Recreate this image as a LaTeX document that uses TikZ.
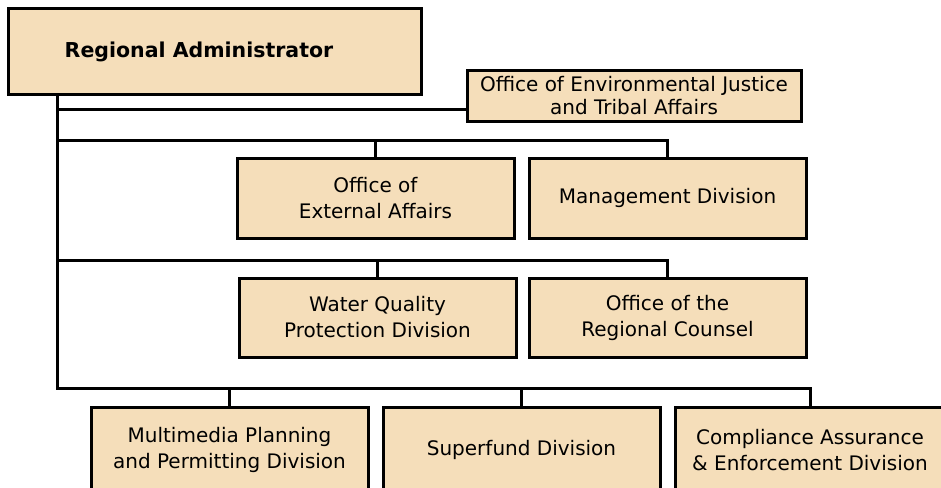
\documentclass[tikz,border=0pt]{standalone}
\usepackage{fontspec}
\setmainfont{DejaVu Sans}
\definecolor{boxfill}{RGB}{245,222,186}
\tikzset{
  orgbox/.style={draw=black, line width=3pt, fill=boxfill, align=center,
    inner sep=0pt, font=\fontsize{20}{26}\selectfont},
  conn/.style={draw=black, line width=3pt}
}
\begin{document}
\begin{tikzpicture}[x=1pt, y=-1pt]
  \useasboundingbox[fill=white] (0,0) rectangle (941,487);
  % trunk and bus lines
  \coordinate (top) at (57,93);
  \coordinate (bot) at (57,388);
  \coordinate (b0) at (57,109);
  \coordinate (b1) at (57,140);
  \coordinate (b2) at (57,260);
  % boxes
  \node[orgbox, minimum width=413pt, minimum height=85pt,
        font=\bfseries\fontsize{20.5}{24}\selectfont]
        (ra) at (215,51.5) {Regional Administrator\hspace*{32pt}};
  \node[orgbox, minimum width=334pt, minimum height=51pt,
        font=\fontsize{20}{23}\selectfont]
        (oejta) at (634,95.5) {Office of Environmental Justice\\and Tribal Affairs};
  \node[orgbox, minimum width=277pt, minimum height=80pt] (oea) at (375.5,198)
        {Office of\\External Affairs};
  \node[orgbox, minimum width=277pt, minimum height=80pt] (mgmt) at (667.5,198)
        {Management Division};
  \node[orgbox, minimum width=277pt, minimum height=79pt] (wqpd) at (377.5,317.5)
        {Water Quality\\Protection Division};
  \node[orgbox, minimum width=277pt, minimum height=79pt] (orc) at (667.5,317.5)
        {Office of the\\Regional Counsel};
  \node[orgbox, minimum width=277pt, minimum height=86pt] (mpp) at (229.5,450)
        {Multimedia Planning\\and Permitting Division};
  \node[orgbox, minimum width=277pt, minimum height=86pt] (sf) at (521.5,450)
        {Superfund Division};
  \node[orgbox, minimum width=270pt, minimum height=86pt] (caed) at (810,450)
        {Compliance Assurance\\\& Enforcement Division};
  % connectors
  \draw[conn] (top) -- (bot) -| (caed.north);
  \draw[conn] (b0) -- (b0 -| oejta.west);
  \draw[conn] (b1) -| (mgmt.north);
  \draw[conn] (oea.north) -- (oea.north |- b1);
  \draw[conn] (b2) -| (orc.north);
  \draw[conn] (wqpd.north) -- (wqpd.north |- b2);
  \draw[conn] (mpp.north) -- (mpp.north |- bot);
  \draw[conn] (sf.north) -- (sf.north |- bot);
\end{tikzpicture}
\end{document}
